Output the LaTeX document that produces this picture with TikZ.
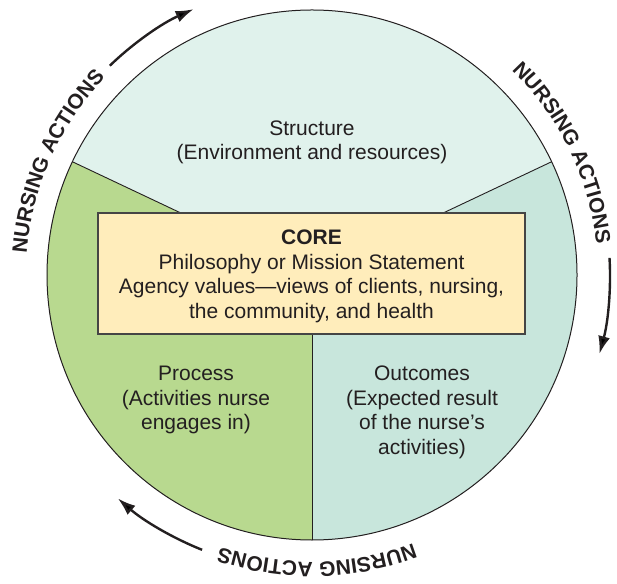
\documentclass[tikz,border=0pt]{standalone}
\usepackage{fontspec}
\setmainfont{Liberation Sans}
\usetikzlibrary{arrows.meta,decorations.text}
\definecolor{structc}{HTML}{E0F2EC}
\definecolor{procc}{HTML}{B8D98F}
\definecolor{outc}{HTML}{C8E6DC}
\definecolor{corec}{HTML}{FFEDBB}
\definecolor{inkc}{HTML}{231F20}
\definecolor{boxline}{HTML}{454545}
\begin{document}
\begin{tikzpicture}[x=1pt,y=1pt, font=\fontsize{21}{24.5}\selectfont, text=inkc,
  region/.style={align=center, inner sep=0pt, anchor=base},
  divider/.style={line width=0.9pt, draw=inkc},
  actarrow/.style={line width=2.4pt, draw=inkc, -{Latex[length=18pt,width=12pt]}},
  ringtext/.style={decorate, decoration={text along path, text align=center, text color=inkc,
     text={|\bfseries\fontsize{21}{21}\selectfont|NURSING ACTIONS}}}]
\useasboundingbox (0,0) rectangle (617,583);
\coordinate (C) at (312,308);
% sectors
\fill[structc] (C) -- ([shift={(C)}]25.3:265) arc[start angle=25.3,end angle=154.7,radius=265] -- cycle;
\fill[procc] (C) -- ([shift={(C)}]154.7:265) arc[start angle=154.7,end angle=270,radius=265] -- cycle;
\fill[outc] (C) -- ([shift={(C)}]270:265) arc[start angle=270,end angle=385.3,radius=265] -- cycle;
\draw[divider] (C) -- ([shift={(C)}]25.3:265);
\draw[divider] (C) -- ([shift={(C)}]154.7:265);
\draw[divider] (C) -- ([shift={(C)}]270:265);
\draw[line width=1pt, draw=inkc] (C) circle[radius=265];
% core box
\node[draw=boxline, fill=corec, line width=1.5pt, minimum width=427pt, minimum height=121pt, inner sep=0pt] (core) at (311.5,309.5) {};
\node[region] (coretext) at (311.5,264.7) {\textbf{CORE}\\Philosophy or Mission Statement\\Agency values---views of clients, nursing,\\the community, and health};
% region texts
\node[region] (struct) at (312,423) {Structure\\(Environment and resources)};
\node[region] (process) at (196,153) {Process\\(Activities nurse\\engages in)};
\node[region] (outcome) at (422,128.5) {Outcomes\\(Expected result\\of the nurse’s\\activities)};
% ring texts
\path[ringtext] ([shift={(C)}]190:286) arc[start angle=190,end angle=122,radius=286];
\path[ringtext] ([shift={(C)}]60:286) arc[start angle=60,end angle=-8,radius=286];
\path[ringtext] ([shift={(C)}]-55:287) arc[start angle=-55,end angle=-123,radius=287];
% arrows
\coordinate (a1) at ([shift={(C)}]134:291);
\coordinate (a2) at ([shift={(C)}]3.3:298);
\coordinate (a3) at ([shift={(C)}]-111.8:296);
\draw[actarrow] (a1) arc[start angle=134,end angle=114,radius=291];
\draw[actarrow] (a2) arc[start angle=3.3,end angle=-15.4,radius=298];
\draw[actarrow] (a3) arc[start angle=-111.8,end angle=-131,radius=296];
\end{tikzpicture}
\end{document}
